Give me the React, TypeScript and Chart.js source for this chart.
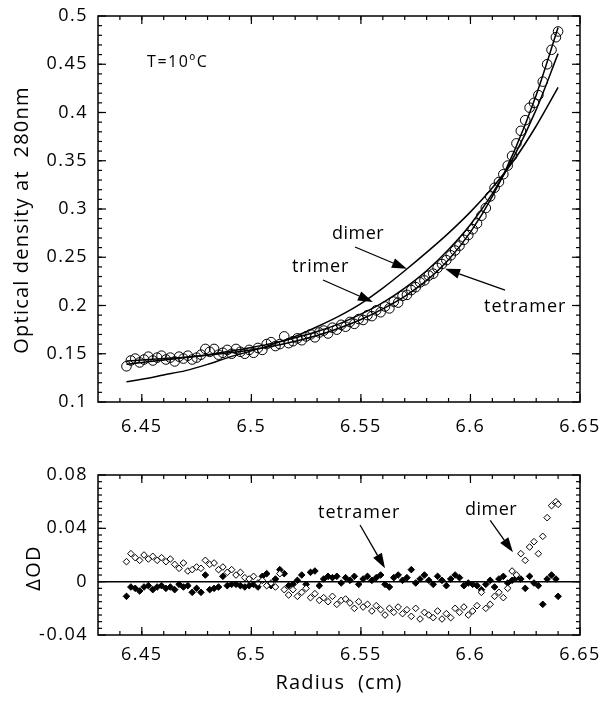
import React, { useEffect, useRef } from "react";
import { Chart, registerables } from "chart.js";

Chart.register(...registerables);

// ---------- data ----------
const radius = [
  6.443, 6.445, 6.447, 6.449, 6.451, 6.453, 6.455, 6.457, 6.459, 6.461,
  6.463, 6.465, 6.467, 6.469, 6.471, 6.473, 6.475, 6.477, 6.479, 6.481,
  6.483, 6.485, 6.487, 6.489, 6.491, 6.493, 6.495, 6.497, 6.499, 6.501,
  6.503, 6.505, 6.507, 6.509, 6.511, 6.513, 6.515, 6.517, 6.519, 6.521,
  6.523, 6.525, 6.527, 6.529, 6.531, 6.533, 6.535, 6.537, 6.539, 6.541,
  6.543, 6.545, 6.547, 6.549, 6.551, 6.553, 6.555, 6.557, 6.559, 6.561,
  6.563, 6.565, 6.567, 6.569, 6.571, 6.573, 6.575, 6.577, 6.579, 6.581,
  6.583, 6.585, 6.587, 6.589, 6.591, 6.593, 6.595, 6.597, 6.599, 6.601,
  6.603, 6.605, 6.607, 6.609, 6.611, 6.613, 6.615, 6.617, 6.619, 6.621,
  6.623, 6.625, 6.627, 6.629, 6.631, 6.633, 6.635, 6.637, 6.639, 6.640,
];

const opticalDensity = [
  0.137, 0.143, 0.145, 0.141, 0.144, 0.147, 0.143, 0.146, 0.148, 0.144,
  0.146, 0.142, 0.147, 0.145, 0.148, 0.144, 0.146, 0.149, 0.155, 0.152,
  0.155, 0.149, 0.151, 0.154, 0.150, 0.155, 0.152, 0.150, 0.154, 0.151,
  0.156, 0.154, 0.160, 0.162, 0.158, 0.160, 0.168, 0.161, 0.163, 0.166,
  0.164, 0.168, 0.170, 0.167, 0.172, 0.174, 0.171, 0.177, 0.175, 0.180,
  0.178, 0.183, 0.181, 0.186, 0.185, 0.190, 0.189, 0.195, 0.193, 0.199,
  0.197, 0.204, 0.203, 0.210, 0.211, 0.216, 0.219, 0.224, 0.226, 0.231,
  0.233, 0.239, 0.243, 0.247, 0.252, 0.257, 0.262, 0.268, 0.273, 0.279,
  0.285, 0.293, 0.301, 0.313, 0.322, 0.328, 0.336, 0.345, 0.355, 0.368,
  0.381, 0.392, 0.405, 0.410, 0.418, 0.432, 0.450, 0.465, 0.478, 0.484,
];

const fitRadius = [
  6.443, 6.45, 6.46, 6.47, 6.48, 6.49, 6.5, 6.51, 6.52, 6.53, 6.54,
  6.55, 6.56, 6.57, 6.58, 6.59, 6.6, 6.61, 6.62, 6.63, 6.64,
];
const dimerFit = [
  0.121, 0.1235, 0.128, 0.1325, 0.139, 0.1465, 0.153, 0.16, 0.168, 0.178, 0.189,
  0.202, 0.218, 0.236, 0.255, 0.275, 0.297, 0.322, 0.351, 0.386, 0.426,
];
const trimerFit = [
  0.139, 0.141, 0.1435, 0.146, 0.149, 0.1525, 0.1565, 0.161, 0.1665, 0.173, 0.181,
  0.191, 0.203, 0.218, 0.236, 0.258, 0.284, 0.316, 0.355, 0.403, 0.461,
];
const tetramerFit = [
  0.1425, 0.1435, 0.145, 0.1465, 0.1485, 0.151, 0.154, 0.158, 0.163, 0.169, 0.1765,
  0.1855, 0.1965, 0.2095, 0.226, 0.2475, 0.276, 0.313, 0.36, 0.418, 0.488,
];

const tetramerResidual = [
  -0.011, -0.004, -0.005, -0.007, -0.004, -0.003, -0.006, -0.004, -0.003, -0.005,
  -0.004, -0.006, -0.002, -0.004, -0.003, -0.008, -0.005, -0.008, 0.005, -0.006,
  -0.005, -0.004, 0.004, -0.003, -0.002, -0.002, -0.003, -0.004, -0.003, -0.002,
  -0.004, 0.004, 0.006, -0.003, 0.002, 0.009, 0.006, -0.003, -0.002, 0.001,
  0.005, -0.002, 0.007, 0.008, -0.003, 0.002, 0.004, 0.003, 0.004, -0.001,
  0.003, 0.001, 0.004, -0.002, 0.002, 0.004, 0.001, 0.003, 0.005, -0.002,
  -0.004, 0.003, 0.005, 0.001, 0.003, 0.009, -0.001, 0.002, 0.005, 0.001,
  -0.002, 0.004, 0.001, -0.003, 0.002, 0.005, 0.003, -0.003, -0.001, -0.002,
  -0.003, -0.006, -0.002, 0.001, -0.004, 0.002, 0.004, -0.001, 0.001, 0.003,
  0.002, -0.005, 0.004, -0.001, -0.003, -0.017, 0.002, 0.005, 0.002, -0.011,
];

const dimerResidual = [
  0.015, 0.021, 0.018, 0.016, 0.020, 0.017, 0.019, 0.016, 0.018, 0.015,
  0.017, 0.013, 0.010, 0.014, 0.008, 0.009, 0.011, 0.010, 0.016, 0.013,
  0.014, 0.009, 0.011, 0.007, 0.009, 0.005, 0.007, 0.003, 0.002, 0.004,
  -0.001, 0.001, -0.003, -0.001, -0.004, 0.006, -0.006, -0.010, -0.006, -0.011,
  -0.008, -0.005, -0.012, -0.009, -0.014, -0.012, -0.015, -0.011, -0.017, -0.014,
  -0.013, -0.016, -0.020, -0.015, -0.019, -0.017, -0.022, -0.018, -0.021, -0.025,
  -0.020, -0.023, -0.019, -0.024, -0.021, -0.026, -0.020, -0.028, -0.023, -0.025,
  -0.027, -0.022, -0.028, -0.024, -0.027, -0.020, -0.023, -0.019, -0.025, -0.022,
  -0.018, -0.008, -0.020, -0.017, -0.011, -0.008, -0.012, -0.005, 0.008, 0.005,
  0.021, 0.016, 0.026, 0.030, 0.021, 0.034, 0.048, 0.057, 0.060, 0.058,
];

const xTickValues = [6.45, 6.5, 6.55, 6.6, 6.65];
const xTickLabels = ["6.45", "6.5", "6.55", "6.6", "6.65"];
const odTickValues = [0.1, 0.15, 0.2, 0.25, 0.3, 0.35, 0.4, 0.45, 0.5];
const odTickLabels = ["0.1", "0.15", "0.2", "0.25", "0.3", "0.35", "0.4", "0.45", "0.5"];
const dodTickValues = [-0.04, 0, 0.04, 0.08];
const dodTickLabels = ["-0.04", "0", "0.04", "0.08"];

// ---------- drawing helpers ----------
const FONT = '"Open Sans", "DejaVu Sans", sans-serif';

type Note = { text: string; x: number; y: number; size: number; spacing: number };
type Arrow = { x1: number; y1: number; x2: number; y2: number };

type FrameCfg = {
  id: string;
  xMinor: number[];
  yMinor: number[];
  yTicks: number[];
  yLabels: string[];
  xLabelOffset: number;
  yTitle: string;
  yTitleX: number;
  yTitleY: number;
  xTitle?: string;
  xTitleX?: number;
  xTitleY?: number;
  zeroLine?: boolean;
  notes: Note[];
  arrows: Arrow[];
};

function range(a: number, b: number, div: number) {
  const out: number[] = [];
  for (let i = a; i <= b; i++) out.push(i / div);
  return out;
}

function makeFramePlugin(cfg: FrameCfg) {
  return {
    id: cfg.id,
    afterDraw(chart: any) {
      const ctx: CanvasRenderingContext2D = chart.ctx;
      const { left, right, top, bottom } = chart.chartArea;
      const xs = chart.scales.x;
      const ys = chart.scales.y;
      ctx.save();
      ctx.strokeStyle = "#000";
      ctx.fillStyle = "#000";
      ctx.lineWidth = 1.5;
      ctx.strokeRect(left, top, right - left, bottom - top);

      ctx.lineWidth = 1.2;
      const tick = (x1: number, y1: number, x2: number, y2: number) => {
        ctx.beginPath();
        ctx.moveTo(x1, y1);
        ctx.lineTo(x2, y2);
        ctx.stroke();
      };
      cfg.xMinor.forEach((v) => {
        const px = xs.getPixelForValue(v);
        tick(px, bottom, px, bottom - 4);
        tick(px, top, px, top + 4);
      });
      xTickValues.forEach((v) => {
        const px = xs.getPixelForValue(v);
        tick(px, bottom, px, bottom - 8);
        tick(px, top, px, top + 8);
      });
      cfg.yMinor.forEach((v) => {
        const py = ys.getPixelForValue(v);
        tick(left, py, left + 4, py);
        tick(right, py, right - 4, py);
      });
      cfg.yTicks.forEach((v) => {
        const py = ys.getPixelForValue(v);
        tick(left, py, left + 8, py);
        tick(right, py, right - 8, py);
      });

      if (cfg.zeroLine) {
        ctx.lineWidth = 1.5;
        const py = ys.getPixelForValue(0);
        tick(left, py, right, py);
      }

      // tick labels
      ctx.font = `18px ${FONT}`;
      (ctx as any).letterSpacing = "1.5px";
      ctx.textBaseline = "middle";
      ctx.textAlign = "center";
      xTickValues.forEach((v, i) => {
        ctx.fillText(xTickLabels[i], xs.getPixelForValue(v), bottom + cfg.xLabelOffset);
      });
      ctx.textAlign = "right";
      cfg.yTicks.forEach((v, i) => {
        ctx.fillText(cfg.yLabels[i], left - 10, ys.getPixelForValue(v));
      });

      // axis titles
      ctx.font = `20px ${FONT}`;
      (ctx as any).letterSpacing = "1.2px";
      ctx.textAlign = "center";
      ctx.save();
      ctx.translate(cfg.yTitleX, cfg.yTitleY);
      ctx.rotate(-Math.PI / 2);
      ctx.fillText(cfg.yTitle, 0, 0);
      ctx.restore();
      if (cfg.xTitle) {
        ctx.fillText(cfg.xTitle, cfg.xTitleX!, cfg.xTitleY!);
      }

      // annotations
      ctx.textAlign = "left";
      cfg.notes.forEach((n) => {
        ctx.font = `${n.size}px ${FONT}`;
        (ctx as any).letterSpacing = `${n.spacing}px`;
        ctx.fillText(n.text, xs.getPixelForValue(n.x), ys.getPixelForValue(n.y));
      });
      ctx.lineWidth = 1.3;
      cfg.arrows.forEach((a) => {
        const x1 = xs.getPixelForValue(a.x1);
        const y1 = ys.getPixelForValue(a.y1);
        const x2 = xs.getPixelForValue(a.x2);
        const y2 = ys.getPixelForValue(a.y2);
        const ang = Math.atan2(y2 - y1, x2 - x1);
        const L = 15;
        const W = 5;
        const bx = x2 - L * Math.cos(ang);
        const by = y2 - L * Math.sin(ang);
        tick(x1, y1, bx, by);
        ctx.beginPath();
        ctx.moveTo(x2, y2);
        ctx.lineTo(bx + W * Math.sin(ang), by - W * Math.cos(ang));
        ctx.lineTo(bx - W * Math.sin(ang), by + W * Math.cos(ang));
        ctx.closePath();
        ctx.fill();
      });
      ctx.restore();
    },
  };
}

const hiddenX = { type: "linear" as const, min: 6.43, max: 6.65, display: false };

export default function App() {
  const topRef = useRef<HTMLCanvasElement>(null);
  const botRef = useRef<HTMLCanvasElement>(null);

  useEffect(() => {
    const pts = (xs: number[], ys: number[]) => xs.map((x, i) => ({ x, y: ys[i] }));
    const fitLine = (label: string, ys: number[]) => ({
      label,
      data: pts(fitRadius, ys),
      showLine: true,
      pointRadius: 0,
      borderColor: "#000",
      borderWidth: 1.5,
      cubicInterpolationMode: "monotone" as const,
    });

    const topChart = new Chart(topRef.current!, {
      type: "scatter",
      data: {
        datasets: [
          fitLine("dimer", dimerFit),
          fitLine("trimer", trimerFit),
          fitLine("tetramer", tetramerFit),
          {
            label: "data",
            data: pts(radius, opticalDensity),
            pointStyle: "circle",
            pointRadius: 4.8,
            borderWidth: 1,
            borderColor: "#000",
            backgroundColor: "rgba(255,255,255,0)",
            showLine: false,
          },
        ],
      },
      options: {
        responsive: false,
        animation: false,
        layout: { padding: { left: 98, right: 22, top: 16, bottom: 48 } },
        plugins: { legend: { display: false }, tooltip: { enabled: false } },
        scales: {
          x: hiddenX,
          y: { type: "linear", min: 0.1, max: 0.5, display: false },
        },
      },
      plugins: [
        makeFramePlugin({
          id: "topFrame",
          xMinor: range(644, 664, 100),
          yMinor: range(11, 49, 100),
          yTicks: odTickValues,
          yLabels: odTickLabels,
          xLabelOffset: 25,
          yTitle: "Optical density at  280nm",
          yTitleX: 22,
          yTitleY: 220,
          notes: [
            { text: "T=10ºC", x: 6.4524, y: 0.452, size: 16, spacing: 1.5 },
            { text: "dimer", x: 6.5368, y: 0.274, size: 18, spacing: 0.5 },
            { text: "trimer", x: 6.5185, y: 0.24, size: 18, spacing: 0.8 },
            { text: "tetramer", x: 6.6062, y: 0.1985, size: 18, spacing: 1 },
          ],
          arrows: [
            { x1: 6.5473, y1: 0.2606, x2: 6.571, y2: 0.238 },
            { x1: 6.5327, y1: 0.2264, x2: 6.5555, y2: 0.2036 },
            { x1: 6.6158, y1: 0.216, x2: 6.5884, y2: 0.238 },
          ],
        }),
      ],
    });

    const botChart = new Chart(botRef.current!, {
      type: "scatter",
      data: {
        datasets: [
          {
            label: "dimer residual",
            data: pts(radius, dimerResidual),
            pointStyle: "rectRot",
            pointRadius: 3.3,
            borderWidth: 1,
            borderColor: "#000",
            backgroundColor: "#fff",
          },
          {
            label: "tetramer residual",
            data: pts(radius, tetramerResidual),
            pointStyle: "rectRot",
            pointRadius: 3.3,
            borderWidth: 1,
            borderColor: "#000",
            backgroundColor: "#000",
          },
        ],
      },
      options: {
        responsive: false,
        animation: false,
        layout: { padding: { left: 98, right: 22, top: 25, bottom: 67 } },
        plugins: { legend: { display: false }, tooltip: { enabled: false } },
        scales: {
          x: hiddenX,
          y: { type: "linear", min: -0.04, max: 0.08, display: false },
        },
      },
      plugins: [
        makeFramePlugin({
          id: "botFrame",
          xMinor: range(644, 664, 100),
          yMinor: range(-7, 15, 200),
          yTicks: dodTickValues,
          yLabels: dodTickLabels,
          xLabelOffset: 20,
          yTitle: "ΔOD",
          yTitleX: 34,
          yTitleY: 118,
          xTitle: "Radius  (cm)",
          xTitleX: 339,
          xTitleY: 233,
          zeroLine: true,
          notes: [
            { text: "tetramer", x: 6.5304, y: 0.0515, size: 18, spacing: 1 },
            { text: "dimer", x: 6.5975, y: 0.054, size: 18, spacing: 0.5 },
          ],
          arrows: [
            { x1: 6.5496, y1: 0.0425, x2: 6.561, y2: 0.01 },
            { x1: 6.609, y1: 0.046, x2: 6.6194, y2: 0.022 },
          ],
        }),
      ],
    });

    return () => {
      topChart.destroy();
      botChart.destroy();
    };
  }, []);

  return (
    <div style={{ position: "absolute", left: 0, top: 0, width: 602, height: 702, background: "#fff" }}>
      <canvas ref={topRef} width={602} height={450} style={{ position: "absolute", left: 0, top: 0, display: "block" }} />
      <canvas ref={botRef} width={602} height={252} style={{ position: "absolute", left: 0, top: 450, display: "block" }} />
    </div>
  );
}
